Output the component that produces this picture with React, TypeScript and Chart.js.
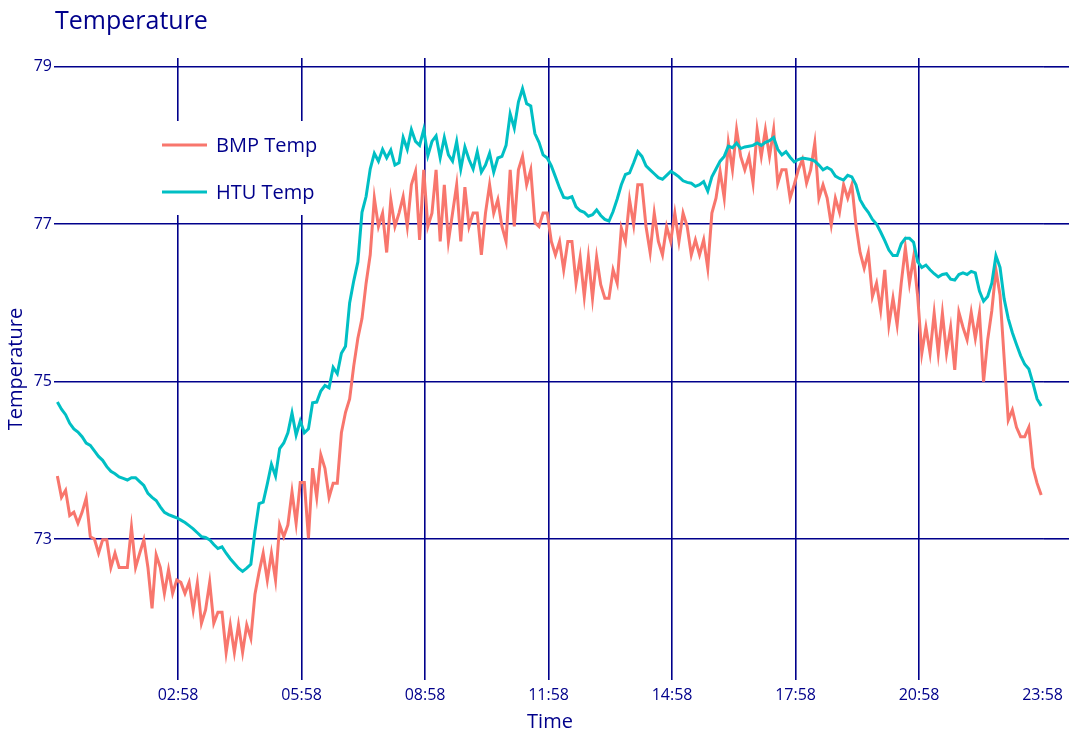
import React, { useEffect, useRef } from 'react';
import { Chart, registerables } from 'chart.js';

Chart.register(...registerables);

// ---- data ----
const CHART_TITLE = 'Temperature';
const X_TITLE = 'Time';
const Y_TITLE = 'Temperature';
const SERIES_NAMES = ['BMP Temp', 'HTU Temp'];

// sampling: minutes after midnight
const TIME_START = 2;
const TIME_STEP = 6;
const X_MIN = 0;
const X_MAX = 1440;

const X_TICKS = [178, 358, 538, 718, 898, 1078, 1258, 1438];
const Y_TICKS = [73, 75, 77, 79];

const BMP_TEMP = [
  73.80, 73.53, 73.62, 73.30, 73.34, 73.20, 73.34, 73.52, 73.03, 73.00,
  72.82, 72.99, 72.99, 72.64, 72.82, 72.64, 72.64, 72.64, 73.15, 72.64,
  72.82, 72.99, 72.64, 72.12, 72.80, 72.64, 72.31, 72.61, 72.31, 72.48,
  72.45, 72.31, 72.45, 72.10, 72.44, 71.93, 72.10, 72.45, 71.93, 72.07,
  72.07, 71.56, 71.91, 71.56, 71.91, 71.56, 71.91, 71.74, 72.30, 72.58,
  72.82, 72.48, 72.82, 72.48, 73.18, 73.03, 73.18, 73.60, 73.20, 73.72,
  73.72, 73.01, 73.90, 73.53, 74.07, 73.90, 73.53, 73.71, 73.71, 74.35,
  74.61, 74.78, 75.20, 75.55, 75.80, 76.25, 76.61, 77.33, 76.97, 77.14,
  76.64, 77.31, 76.97, 77.14, 77.35, 76.97, 77.50, 77.67, 76.80, 77.69,
  76.97, 77.14, 77.69, 76.78, 77.50, 76.78, 77.14, 77.50, 76.78, 77.47,
  76.97, 77.14, 77.14, 76.61, 77.14, 77.50, 77.14, 77.31, 76.97, 76.78,
  77.69, 76.97, 77.69, 77.86, 77.50, 77.69, 77.02, 76.97, 77.14, 77.14,
  76.78, 76.61, 76.78, 76.42, 76.78, 76.78, 76.25, 76.58, 76.08, 76.58,
  76.06, 76.58, 76.23, 76.06, 76.06, 76.42, 76.25, 76.95, 76.78, 77.31,
  76.99, 77.50, 77.50, 76.97, 76.64, 77.14, 76.78, 76.61, 76.97, 76.78,
  77.14, 76.78, 77.14, 76.97, 76.61, 76.80, 76.61, 76.80, 76.44, 77.14,
  77.33, 77.67, 77.33, 78.03, 77.69, 78.20, 77.86, 77.69, 77.86, 77.52,
  78.20, 77.86, 78.20, 77.86, 78.20, 77.52, 77.69, 77.69, 77.33, 77.50,
  77.69, 77.82, 77.52, 77.69, 78.03, 77.33, 77.50, 77.33, 76.99, 77.33,
  77.15, 77.50, 77.33, 77.50, 76.99, 76.64, 76.44, 76.64, 76.08, 76.25,
  75.91, 76.42, 75.72, 76.06, 75.72, 76.25, 76.70, 76.25, 76.58, 76.08,
  75.36, 75.69, 75.36, 75.87, 75.36, 75.87, 75.36, 75.69, 75.15, 75.88,
  75.69, 75.53, 75.88, 75.55, 75.87, 75.00, 75.53, 75.90, 76.42, 76.10,
  75.30, 74.51, 74.64, 74.42, 74.30, 74.30, 74.42, 73.91, 73.71, 73.56,
];

const HTU_TEMP = [
  74.74, 74.65, 74.58, 74.47, 74.40, 74.36, 74.30, 74.22, 74.19, 74.12,
  74.05, 74.00, 73.92, 73.86, 73.83, 73.79, 73.77, 73.75, 73.78, 73.78,
  73.73, 73.68, 73.58, 73.53, 73.49, 73.41, 73.34, 73.31, 73.29, 73.27,
  73.24, 73.21, 73.17, 73.13, 73.08, 73.03, 73.02, 72.99, 72.93, 72.88,
  72.90, 72.82, 72.75, 72.69, 72.63, 72.59, 72.63, 72.68, 73.10, 73.45,
  73.47, 73.70, 73.95, 73.80, 74.15, 74.22, 74.35, 74.60, 74.32, 74.50,
  74.35, 74.40, 74.73, 74.74, 74.88, 74.95, 74.92, 75.18, 75.10, 75.36,
  75.45, 76.00, 76.28, 76.52, 77.15, 77.35, 77.70, 77.90, 77.80, 77.95,
  77.84, 77.94, 77.75, 77.78, 78.10, 77.95, 78.20, 78.05, 78.00, 78.20,
  77.87, 78.05, 78.12, 77.84, 78.10, 77.88, 77.80, 78.05, 77.70, 77.98,
  77.82, 77.70, 77.92, 77.66, 77.75, 77.90, 77.66, 77.84, 77.86, 78.00,
  78.40, 78.22, 78.55, 78.72, 78.53, 78.50, 78.15, 78.04, 77.88, 77.84,
  77.74, 77.60, 77.46, 77.34, 77.33, 77.35, 77.22, 77.17, 77.15, 77.10,
  77.12, 77.18, 77.11, 77.06, 77.04, 77.16, 77.32, 77.50, 77.63, 77.65,
  77.78, 77.92, 77.86, 77.74, 77.69, 77.64, 77.59, 77.57, 77.62, 77.67,
  77.64, 77.60, 77.55, 77.53, 77.52, 77.48, 77.50, 77.54, 77.42, 77.60,
  77.70, 77.80, 77.86, 77.99, 77.97, 78.03, 77.96, 77.98, 77.99, 78.00,
  78.03, 78.00, 78.04, 78.06, 78.10, 77.95, 77.88, 77.92, 77.85, 77.79,
  77.82, 77.84, 77.83, 77.82, 77.80, 77.75, 77.69, 77.72, 77.69, 77.61,
  77.58, 77.56, 77.62, 77.60, 77.50, 77.31, 77.22, 77.15, 77.06, 77.00,
  76.90, 76.79, 76.67, 76.60, 76.60, 76.75, 76.82, 76.82, 76.77, 76.52,
  76.45, 76.48, 76.42, 76.37, 76.33, 76.36, 76.37, 76.30, 76.29, 76.36,
  76.38, 76.36, 76.40, 76.38, 76.15, 76.02, 76.08, 76.25, 76.60, 76.45,
  76.05, 75.80, 75.62, 75.47, 75.33, 75.22, 75.16, 74.98, 74.78, 74.69,
];

// ---- styles ----
const NAVY = '#00008B';
const BMP_COLOR = '#F8766D';
const HTU_COLOR = '#00BFC4';
const FONT = "'Open Sans', 'Noto Sans', sans-serif";
const GRID_W = 1.6;

function fmtTime(m: number): string {
  const h = Math.floor(m / 60);
  const mm = Math.round(m - h * 60);
  return String(h).padStart(2, '0') + ':' + String(mm).padStart(2, '0');
}

function align(p: number, w: number) {
  const half = w / 2;
  return Math.round(p - half) + half;
}

const decor = {
  id: 'decor',
  beforeDatasetsDraw(chart: any) {
    const { ctx, chartArea, scales } = chart;
    ctx.save();
    ctx.strokeStyle = NAVY;
    ctx.lineWidth = GRID_W;
    for (const v of Y_TICKS) {
      const y = align(scales.y.getPixelForValue(v), GRID_W);
      ctx.beginPath();
      ctx.moveTo(chartArea.right, y);
      ctx.lineTo(chart.width, y);
      ctx.stroke();
    }
    ctx.restore();
  },
  afterDraw(chart: any) {
    const { ctx } = chart;
    ctx.save();
    // title
    ctx.fillStyle = NAVY;
    ctx.font = `25px ${FONT}`;
    ctx.textAlign = 'left';
    ctx.textBaseline = 'alphabetic';
    ctx.fillText(CHART_TITLE, 55, 29);
    // legend
    ctx.fillStyle = '#ffffff';
    ctx.fillRect(150, 121, 180, 94);
    const colors = [BMP_COLOR, HTU_COLOR];
    const ys = [145, 192];
    ctx.font = `20px ${FONT}`;
    SERIES_NAMES.forEach((name, i) => {
      ctx.strokeStyle = colors[i];
      ctx.lineWidth = 3;
      ctx.beginPath();
      ctx.moveTo(162, ys[i]);
      ctx.lineTo(207, ys[i]);
      ctx.stroke();
      ctx.fillStyle = NAVY;
      ctx.fillText(name, 216, ys[i] + 7);
    });
    ctx.restore();
  },
};

export default function App() {
  const ref = useRef<HTMLCanvasElement>(null);
  useEffect(() => {
    const times = HTU_TEMP.map((_, i) => TIME_START + i * TIME_STEP);
    const chart = new Chart(ref.current as HTMLCanvasElement, {
      type: 'line',
      data: {
        datasets: [
          {
            label: SERIES_NAMES[0],
            data: times.map((t, i) => ({ x: t, y: BMP_TEMP[i] })),
            borderColor: BMP_COLOR,
            backgroundColor: BMP_COLOR,
            borderWidth: 3,
            pointRadius: 0,
            tension: 0,
            order: 1,
          },
          {
            label: SERIES_NAMES[1],
            data: times.map((t, i) => ({ x: t, y: HTU_TEMP[i] })),
            borderColor: HTU_COLOR,
            backgroundColor: HTU_COLOR,
            borderWidth: 3,
            pointRadius: 0,
            tension: 0,
            order: 0,
          },
        ],
      },
      options: {
        responsive: false,
        animation: false,
        layout: { padding: { top: 58, left: 0, right: 24, bottom: 0 } },
        plugins: {
          legend: { display: false },
          title: { display: false },
          tooltip: { enabled: false },
        },
        scales: {
          x: {
            type: 'linear',
            min: X_MIN,
            max: X_MAX,
            afterBuildTicks: (s: any) => {
              s.ticks = X_TICKS.map((v) => ({ value: v }));
            },
            afterFit: (s: any) => {
              s.height = 60;
            },
            border: { display: false },
            grid: {
              color: (c: any) => (c.tick && c.tick.value === 1438 ? 'rgba(0,0,0,0)' : NAVY),
              lineWidth: GRID_W,
              drawTicks: false,
            },
            ticks: {
              color: NAVY,
              font: { family: FONT, size: 16 },
              padding: 6,
              maxRotation: 0,
              autoSkip: false,
              callback: (v: any) => fmtTime(Number(v)),
            },
            title: {
              display: true,
              text: X_TITLE,
              color: NAVY,
              font: { family: FONT, size: 20 },
              padding: { top: 0, bottom: 6 },
            },
          },
          y: {
            type: 'linear',
            min: 71.21,
            max: 79.11,
            afterBuildTicks: (s: any) => {
              s.ticks = Y_TICKS.map((v) => ({ value: v }));
            },
            afterFit: (s: any) => {
              s.width = 56;
            },
            border: { display: false },
            grid: {
              color: NAVY,
              lineWidth: GRID_W,
              drawTicks: true,
              tickLength: 2,
            },
            ticks: {
              color: NAVY,
              font: { family: FONT, size: 16 },
              padding: 2,
              callback: (v: any) => String(v),
            },
            title: {
              display: true,
              text: Y_TITLE,
              color: NAVY,
              font: { family: FONT, size: 20 },
              padding: { top: 4, bottom: 0 },
            },
          },
        },
      },
      plugins: [decor],
    });
    return () => chart.destroy();
  }, []);
  return (
    <div style={{ position: 'absolute', left: 0, top: 0, width: 1069, height: 740, background: '#ffffff' }}>
      <canvas ref={ref} width={1069} height={740} style={{ display: 'block' }} />
    </div>
  );
}
